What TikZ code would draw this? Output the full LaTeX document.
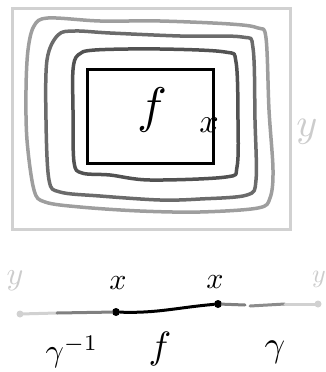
\documentclass[tikz,border=0pt]{standalone}
\usepackage{amsmath}
\begin{document}
\begin{tikzpicture}[
  x=1pt, y=-1pt,
  frame/.style={draw=black!18, line width=3pt},
  ring/.style={line width=3.5pt, line join=round},
  fbox/.style={draw=black, line width=3pt},
  dot/.style={circle, fill=black, inner sep=0pt, minimum size=8pt},
  enddot/.style={circle, fill=black!18, inner sep=0pt, minimum size=7pt},
  seg/.style={line width=3pt, line cap=round}
]
\useasboundingbox (0,0) rectangle (326,372);
% ambient space
\draw[frame] (12,8) rectangle (290,229);
\node[text=black!20] (ytop) at (307,132) {\scalebox{4}{$y$}};
% neighbourhoods
\draw[ring, draw=black!38] plot[smooth cycle, tension=0.55] coordinates {
  (34,26) (48,18) (100,21) (160,21) (230,24) (258,28) (266,38)
  (269,110) (273,170) (270,198) (258,208) (200,212) (140,211)
  (80,207) (45,202) (34,190) (27,140) (26,90) (28,50)};
\draw[ring, draw=black!58] plot[smooth cycle, tension=0.55] coordinates {
  (58,35) (75,31) (110,33) (180,36) (242,37) (253,48) (255,120)
  (256,180) (247,195) (200,199) (160,200) (100,196) (60,192)
  (49,180) (46,120) (47,60)};
\draw[ring, draw=black!68] plot[smooth cycle, tension=0.55] coordinates {
  (78,55) (95,50) (160,49) (225,52) (236,62) (238,120) (237,167)
  (226,177) (150,180) (110,175) (82,173) (74,162) (73,110) (73,70)};
% the map f
\draw[fbox] (87,69) rectangle (213,163);
\node (ftop) at (152,110) {\scalebox{5}{$f$}};
\node (xtop) at (209,125) {\scalebox{3.4}{$x$}};
% path picture
\coordinate (yl) at (20,314);
\coordinate (g1) at (57,313);
\node[dot] (x1) at (116,312) {};
\node[dot] (x2) at (218,304) {};
\coordinate (g2) at (245,305);
\coordinate (g3) at (250,306);
\coordinate (g4) at (285,304);
\coordinate (yr) at (318,304);
\node[enddot] (el) at (yl) {};
\node[enddot] (er) at (yr) {};
\draw[seg, black!18] (yl) -- (g1);
\draw[seg, black!50] (g1) -- (x1);
\draw[seg, black] (x1) to[out=-2, in=185] (x2);
\draw[seg, black!50] (x2) -- (g2);
\draw[seg, black!45] (g3) -- (g4);
\draw[seg, black!18] (g4) -- (yr);
\node (lx1) at (118,283) {\scalebox{3}{$x$}};
\node (lx2) at (215,282) {\scalebox{3}{$x$}};
\node[text=black!20] (yleft) at (15,281) {\scalebox{3.2}{$y$}};
\node[text=black!20, anchor=east, inner sep=0pt] (yright) at (326,279) {\scalebox{2.6}{$y$}};
\node (ginv) at (72,352) {\scalebox{3.2}{$\gamma^{-1}$}};
\node (fbot) at (160,349) {\scalebox{3.8}{$f$}};
\node (gam) at (275,352) {\scalebox{3.6}{$\gamma$}};
\end{tikzpicture}
\end{document}
